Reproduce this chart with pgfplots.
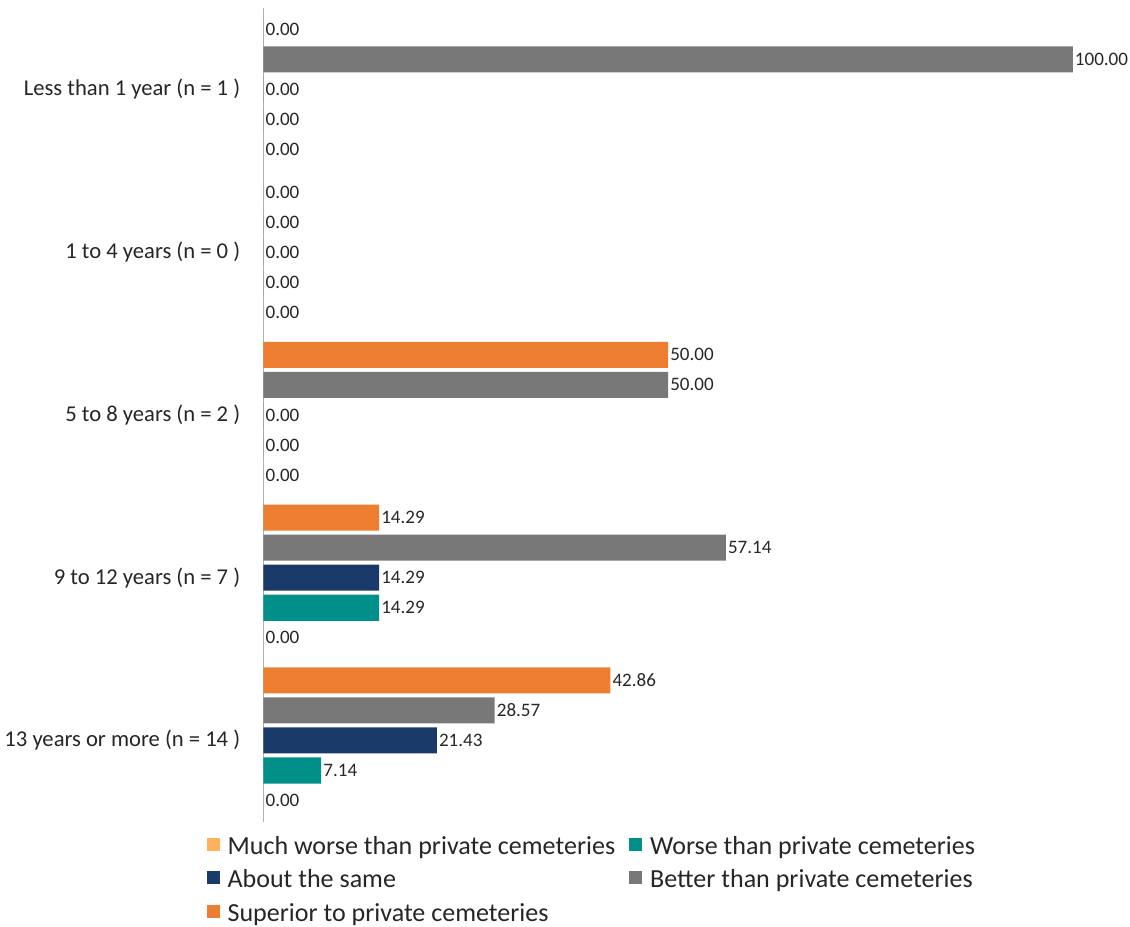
\documentclass[border=0pt]{standalone}
\usepackage{fontspec}
\setmainfont{Carlito}
\usepackage{pgfplots}
\pgfplotsset{compat=1.18}
\definecolor{cSup}{HTML}{ED7D31}
\definecolor{cBet}{HTML}{787878}
\definecolor{cAbo}{HTML}{1A3B69}
\definecolor{cWor}{HTML}{008F89}
\definecolor{cMuc}{HTML}{FFB25A}
\begin{document}
\begin{tikzpicture}
\begin{axis}[
  scale only axis, width=808pt, height=812.5pt,
  xmin=0, xmax=100, ymin=-0.5, ymax=4.5,
  xbar, bar width=26pt,
  axis x line=none,
  axis y line*=left,
  y axis line style={draw=black!30, line width=1pt},
  ytick={0,1,2,3,4},
  yticklabels={13 years or more (n = 14 ),9 to 12 years (n = 7 ),5 to 8 years (n = 2 ),1 to 4 years (n = 0 ),Less than 1 year (n = 1 )},
  major tick length=0pt,
  yticklabel style={font=\fontsize{22.6}{26}\selectfont, inner sep=0pt, xshift=-23pt, text=black!85},
  nodes near coords,
  nodes near coords style={font=\fontsize{19}{23}\selectfont, anchor=west, inner sep=2pt, text=black!85},
  /pgf/number format/fixed,
  /pgf/number format/fixed zerofill,
  /pgf/number format/precision=2,
  /pgf/number format/assume math mode=true,
  legend columns=2,
  legend cell align=left,
  legend style={draw=none, font=\fontsize{26}{30}\selectfont, text=black!85,
    at={(rel axis cs:0,0)}, anchor=north west, xshift=-60pt, yshift=-10pt,
    /tikz/every even column/.append style={column sep=12pt}, row sep=10pt},
  legend image code/.code={\fill[#1,draw=none] (0pt,-5pt) rectangle (13pt,8pt); \path (19pt,0pt);},
]
\addplot[fill=cMuc, draw=none, bar shift=-60pt] coordinates {(0,4) (0,3) (0,2) (0,1) (0,0)};
\addlegendentry{Much worse than private cemeteries}
\addplot[fill=cWor, draw=none, bar shift=-30pt] coordinates {(0,4) (0,3) (0,2) (14.29,1) (7.14,0)};
\addlegendentry{Worse than private cemeteries}
\addplot[fill=cAbo, draw=none, bar shift=0pt] coordinates {(0,4) (0,3) (0,2) (14.29,1) (21.43,0)};
\addlegendentry{About the same}
\addplot[fill=cBet, draw=none, bar shift=30pt] coordinates {(100,4) (0,3) (50,2) (57.14,1) (28.57,0)};
\addlegendentry{Better than private cemeteries}
\addplot[fill=cSup, draw=none, bar shift=60pt] coordinates {(0,4) (0,3) (50,2) (14.29,1) (42.86,0)};
\addlegendentry{Superior to private cemeteries}
\end{axis}
\path ([xshift=-263pt,yshift=8pt]current axis.north west);
\end{tikzpicture}
\end{document}
